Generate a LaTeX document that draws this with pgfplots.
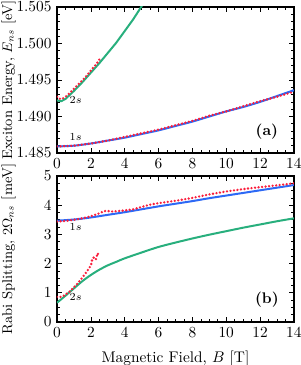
\documentclass[border=0pt]{standalone}
\usepackage{pgfplots}
\pgfplotsset{compat=1.18}
\definecolor{cgreen}{RGB}{40,175,125}
\definecolor{cblue}{RGB}{45,105,245}
\definecolor{cred}{RGB}{250,30,60}
\begin{document}
\begin{tikzpicture}
\pgfplotsset{
  every axis/.style={
    scale only axis, width=154pt, height=94.9pt,
    xmin=0, xmax=14, xtick={0,2,...,14}, minor x tick num=3,
    tick align=inside, major tick length=3.3pt, minor tick length=1.8pt,
    every tick/.style={black, line width=0.4pt},
    axis line style={line width=0.8pt},
    tick pos=both,
    clip=true,
  },
  every axis y label/.style={at={(axis description cs:0,0.5)}, xshift=-31.5pt, rotate=90, anchor=center, font=\fontsize{9.2}{11}\selectfont},
  every axis x label/.style={at={(axis description cs:0.5,0)}, yshift=-24pt, anchor=center},
  curve/.style={line width=1.3pt},
  reddot/.style={cred, line width=1.7pt, line cap=round, dash pattern=on 0pt off 2.3pt},
}
\begin{axis}[name=top, at={(0,0)}, anchor=south west,
  ymin=1.485, ymax=1.505, ytick={1.485,1.490,...,1.505}, minor y tick num=4,
  scaled y ticks=false,
  yticklabel style={/pgf/number format/.cd, fixed, fixed zerofill, precision=3},
  ylabel={Exciton Energy, $E_{ns}$ [eV]},
]
\addplot[curve, cgreen] coordinates {(0,1.4922) (0.25,1.4921) (0.5,1.4924) (1,1.4935) (1.5,1.4947) (2,1.4960) (2.5,1.4973) (3,1.4987) (3.5,1.5001) (4,1.5017) (4.5,1.5033) (5,1.5051) (5.3,1.5062)};
\addplot[curve, cblue, smooth] coordinates {(0,1.4859) (1,1.4860) (2,1.4863) (3,1.4867) (4,1.4871) (5,1.4876) (6,1.4881) (7,1.4887) (8,1.4893) (9,1.4900) (10,1.4907) (11,1.4913) (12,1.4920) (13,1.4928) (14,1.4936)};
\addplot[reddot] coordinates {(0,1.4859) (1,1.4860) (2,1.4863) (3,1.4867) (4,1.4872) (5,1.4877) (6,1.4882) (7,1.4888) (8,1.4894) (9,1.4901) (10,1.4907) (11,1.4914) (12,1.4921) (13,1.4927) (14,1.4934)};
\addplot[reddot] coordinates {(0,1.4927) (0.1,1.4925) (0.2,1.4924) (0.3,1.4924) (0.5,1.4927) (0.7,1.4931) (1.0,1.4938) (1.3,1.4945) (1.6,1.4952) (1.9,1.4960) (2.1,1.4966) (2.3,1.4971) (2.45,1.4976) (2.55,1.4980)};
\node at (axis cs:1.1,1.4923) {\scriptsize $2s$};
\node at (axis cs:1.1,1.4872) {\scriptsize $1s$};
\node at (axis cs:12.4,1.4879) {\textbf{(a)}};
\end{axis}
\begin{axis}[name=bot, at={(0,-14.95pt)}, anchor=north west,
  ymin=0, ymax=5, ytick={0,1,...,5}, minor y tick num=3,
  ylabel={Rabi Splitting, $2\Omega_{ns}$ [meV]},
  xlabel={Magnetic Field, $B$ [T]},
]
\addplot[curve, cgreen, smooth] coordinates {(0,0.66) (0.5,0.90) (1,1.15) (1.5,1.40) (2,1.61) (2.5,1.79) (3,1.94) (3.5,2.06) (4,2.18) (5,2.38) (6,2.57) (7,2.72) (8,2.86) (9,2.99) (10,3.11) (11,3.23) (12,3.34) (13,3.45) (14,3.55)};
\addplot[curve, cblue, smooth] coordinates {(0,3.47) (1,3.51) (2,3.58) (3,3.67) (4,3.76) (5,3.86) (6,3.96) (7,4.05) (8,4.14) (9,4.24) (10,4.33) (11,4.42) (12,4.51) (13,4.60) (14,4.69)};
\addplot[reddot] coordinates {(0,3.44) (0.5,3.46) (1,3.50) (1.5,3.55) (2,3.62) (2.5,3.72) (2.8,3.80) (3,3.80) (3.3,3.78) (3.6,3.80) (4,3.82) (4.5,3.86) (5,3.94) (5.5,4.02) (6,4.07) (7,4.15) (8,4.25) (9,4.37) (10,4.47) (11,4.55) (12,4.62) (13,4.68) (14,4.75)};
\addplot[reddot] coordinates {(0,0.86) (0.1,0.86) (0.2,0.86) (0.3,0.87) (0.4,0.90) (0.5,0.95) (0.6,0.98) (0.7,1.02) (0.8,1.07) (0.9,1.13) (1.0,1.19) (1.1,1.25) (1.2,1.31) (1.3,1.38) (1.4,1.45) (1.5,1.52) (1.6,1.60) (1.7,1.68) (1.8,1.76) (1.9,1.85) (2.0,1.93) (2.1,2.18) (2.2,2.22) (2.3,2.15) (2.4,2.36) (2.5,2.24)};
\node at (axis cs:1.1,3.26) {\scriptsize $1s$};
\node at (axis cs:1.1,0.87) {\scriptsize $2s$};
\node at (axis cs:12.4,0.75) {\textbf{(b)}};
\end{axis}
\pgfresetboundingbox
\path[use as bounding box] (-37.05pt,-137.8pt) rectangle (157.95pt,99.45pt);
\end{tikzpicture}
\end{document}
